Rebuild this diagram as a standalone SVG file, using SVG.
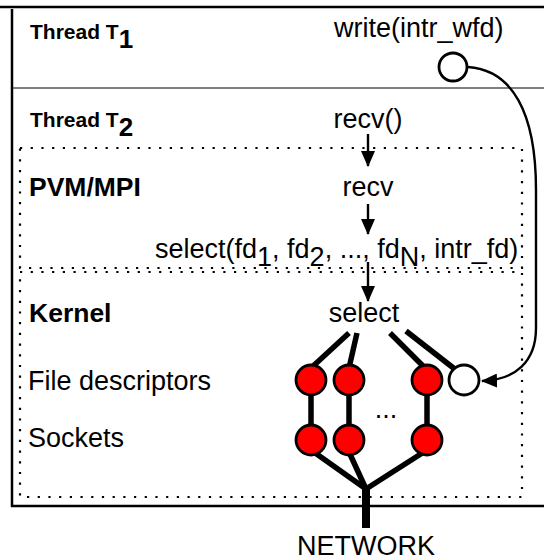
<svg xmlns="http://www.w3.org/2000/svg" width="544" height="560" viewBox="0 0 544 560">
  <defs>
    <style>
      text { font-family: "Liberation Sans", Arial, sans-serif; fill: #000; }
      .lbl { font-size: 27px; }
      .bold { font-weight: bold; font-size: 26.5px; }
      .thr { font-weight: bold; font-size: 21px; }
      .frame { stroke: #000; stroke-width: 2.5; fill: none; }
      .dots { stroke: #000; stroke-width: 2.2; fill: none; stroke-dasharray: 2.2 8.5; }
      .link { stroke: #000; stroke-width: 5.5; fill: none; }
      .flow { stroke: #000; stroke-width: 2.4; fill: none; }
      .fd { fill: #ff0000; stroke: #000; stroke-width: 2.8; }
      .open { fill: #fff; stroke: #000; stroke-width: 2.8; }
    </style>
    <marker id="head" viewBox="0 0 16 14" refX="15" refY="7" markerWidth="16" markerHeight="14" markerUnits="userSpaceOnUse" orient="auto">
      <path d="M0,0 L16,7 L0,14 Z" fill="#000"/>
    </marker>
  </defs>

  <!-- outer frame and thread separator -->
  <g id="frame">
    <line class="frame" x1="0" y1="7" x2="544" y2="7"/>
    <line class="frame" x1="12" y1="9" x2="12" y2="507"/>
    <line class="frame" x1="11" y1="506" x2="544" y2="506"/>
    <line stroke="#000" stroke-width="1" x1="12" y1="88" x2="544" y2="88"/>
  </g>

  <!-- layer boxes -->
  <g id="pvm-layer">
    <rect class="dots" x="20" y="148" width="502" height="120"/>
    <text class="bold" x="29" y="196">PVM/MPI</text>
  </g>
  <g id="kernel-layer">
    <rect class="dots" x="20" y="272" width="502" height="225"/>
    <text class="bold" x="29" y="322">Kernel</text>
  </g>

  <g id="thread-t1">
    <text class="thr" x="30" y="39">Thread T<tspan font-size="26" dy="9">1</tspan></text>
    <text class="lbl" x="334" y="37">write(intr_wfd)</text>
  </g>
  <g id="thread-t2">
    <text class="thr" x="30" y="127">Thread T<tspan font-size="26" dy="9">2</tspan></text>
    <text class="lbl" x="368" y="128" text-anchor="middle">recv()</text>
  </g>

  <g id="pvm-recv">
    <text class="lbl" x="368" y="196" text-anchor="middle">recv</text>
  </g>
  <g id="pvm-select">
    <text class="lbl" x="155" y="258">select(fd<tspan dy="8">1</tspan><tspan dy="-8">, fd</tspan><tspan dy="8">2</tspan><tspan dy="-8">, ..., fd</tspan><tspan dy="8">N</tspan><tspan dy="-8">, intr_fd)</tspan></text>
  </g>
  <g id="kernel-select">
    <text class="lbl" x="364" y="322" text-anchor="middle">select</text>
  </g>

  <g id="row-labels">
    <text class="lbl" x="28" y="390">File descriptors</text>
    <text class="lbl" x="28" y="447">Sockets</text>
    <text class="lbl" x="386" y="418" text-anchor="middle">...</text>
  </g>

  <!-- connectors -->
  <g id="connectors">
    <line class="flow" x1="368" y1="134" x2="368" y2="166" marker-end="url(#head)"/>
    <line class="flow" x1="368" y1="204" x2="368" y2="234" marker-end="url(#head)"/>
    <line class="flow" x1="368" y1="262" x2="368" y2="301" marker-end="url(#head)"/>
    <path class="flow" d="M468,67 C512,70 536,112 536,190 L536,328 C536,362 515,380 482,381" marker-end="url(#head)"/>

    <line class="link" x1="349" y1="333" x2="311" y2="368"/>
    <line class="link" x1="357" y1="333" x2="349" y2="368"/>
    <line class="link" x1="390" y1="333" x2="425" y2="368"/>
    <line class="link" x1="406" y1="331" x2="456" y2="370"/>

    <line class="link" x1="311" y1="380" x2="311" y2="440"/>
    <line class="link" x1="349" y1="380" x2="349" y2="440"/>
    <line class="link" x1="427" y1="380" x2="427" y2="440"/>

    <line class="link" x1="311" y1="450" x2="366" y2="489"/>
    <line class="link" x1="349" y1="452" x2="366" y2="489"/>
    <line class="link" x1="427" y1="450" x2="366" y2="489"/>
    <line stroke="#000" stroke-width="8" x1="366" y1="486" x2="366" y2="528"/>
  </g>

  <!-- descriptor and socket nodes -->
  <g id="intr-wfd"><circle class="open" cx="453" cy="67" r="14"/></g>
  <g id="fd-1"><circle class="fd" cx="311" cy="380" r="15"/></g>
  <g id="fd-2"><circle class="fd" cx="349" cy="380" r="15"/></g>
  <g id="fd-n"><circle class="fd" cx="427" cy="380" r="15"/></g>
  <g id="intr-fd"><circle class="open" cx="464" cy="380" r="15"/></g>
  <g id="sock-1"><circle class="fd" cx="311" cy="440" r="15"/></g>
  <g id="sock-2"><circle class="fd" cx="349" cy="440" r="15"/></g>
  <g id="sock-n"><circle class="fd" cx="427" cy="440" r="15"/></g>

  <g id="network">
    <text class="lbl" x="366" y="555" text-anchor="middle">NETWORK</text>
  </g>
</svg>
